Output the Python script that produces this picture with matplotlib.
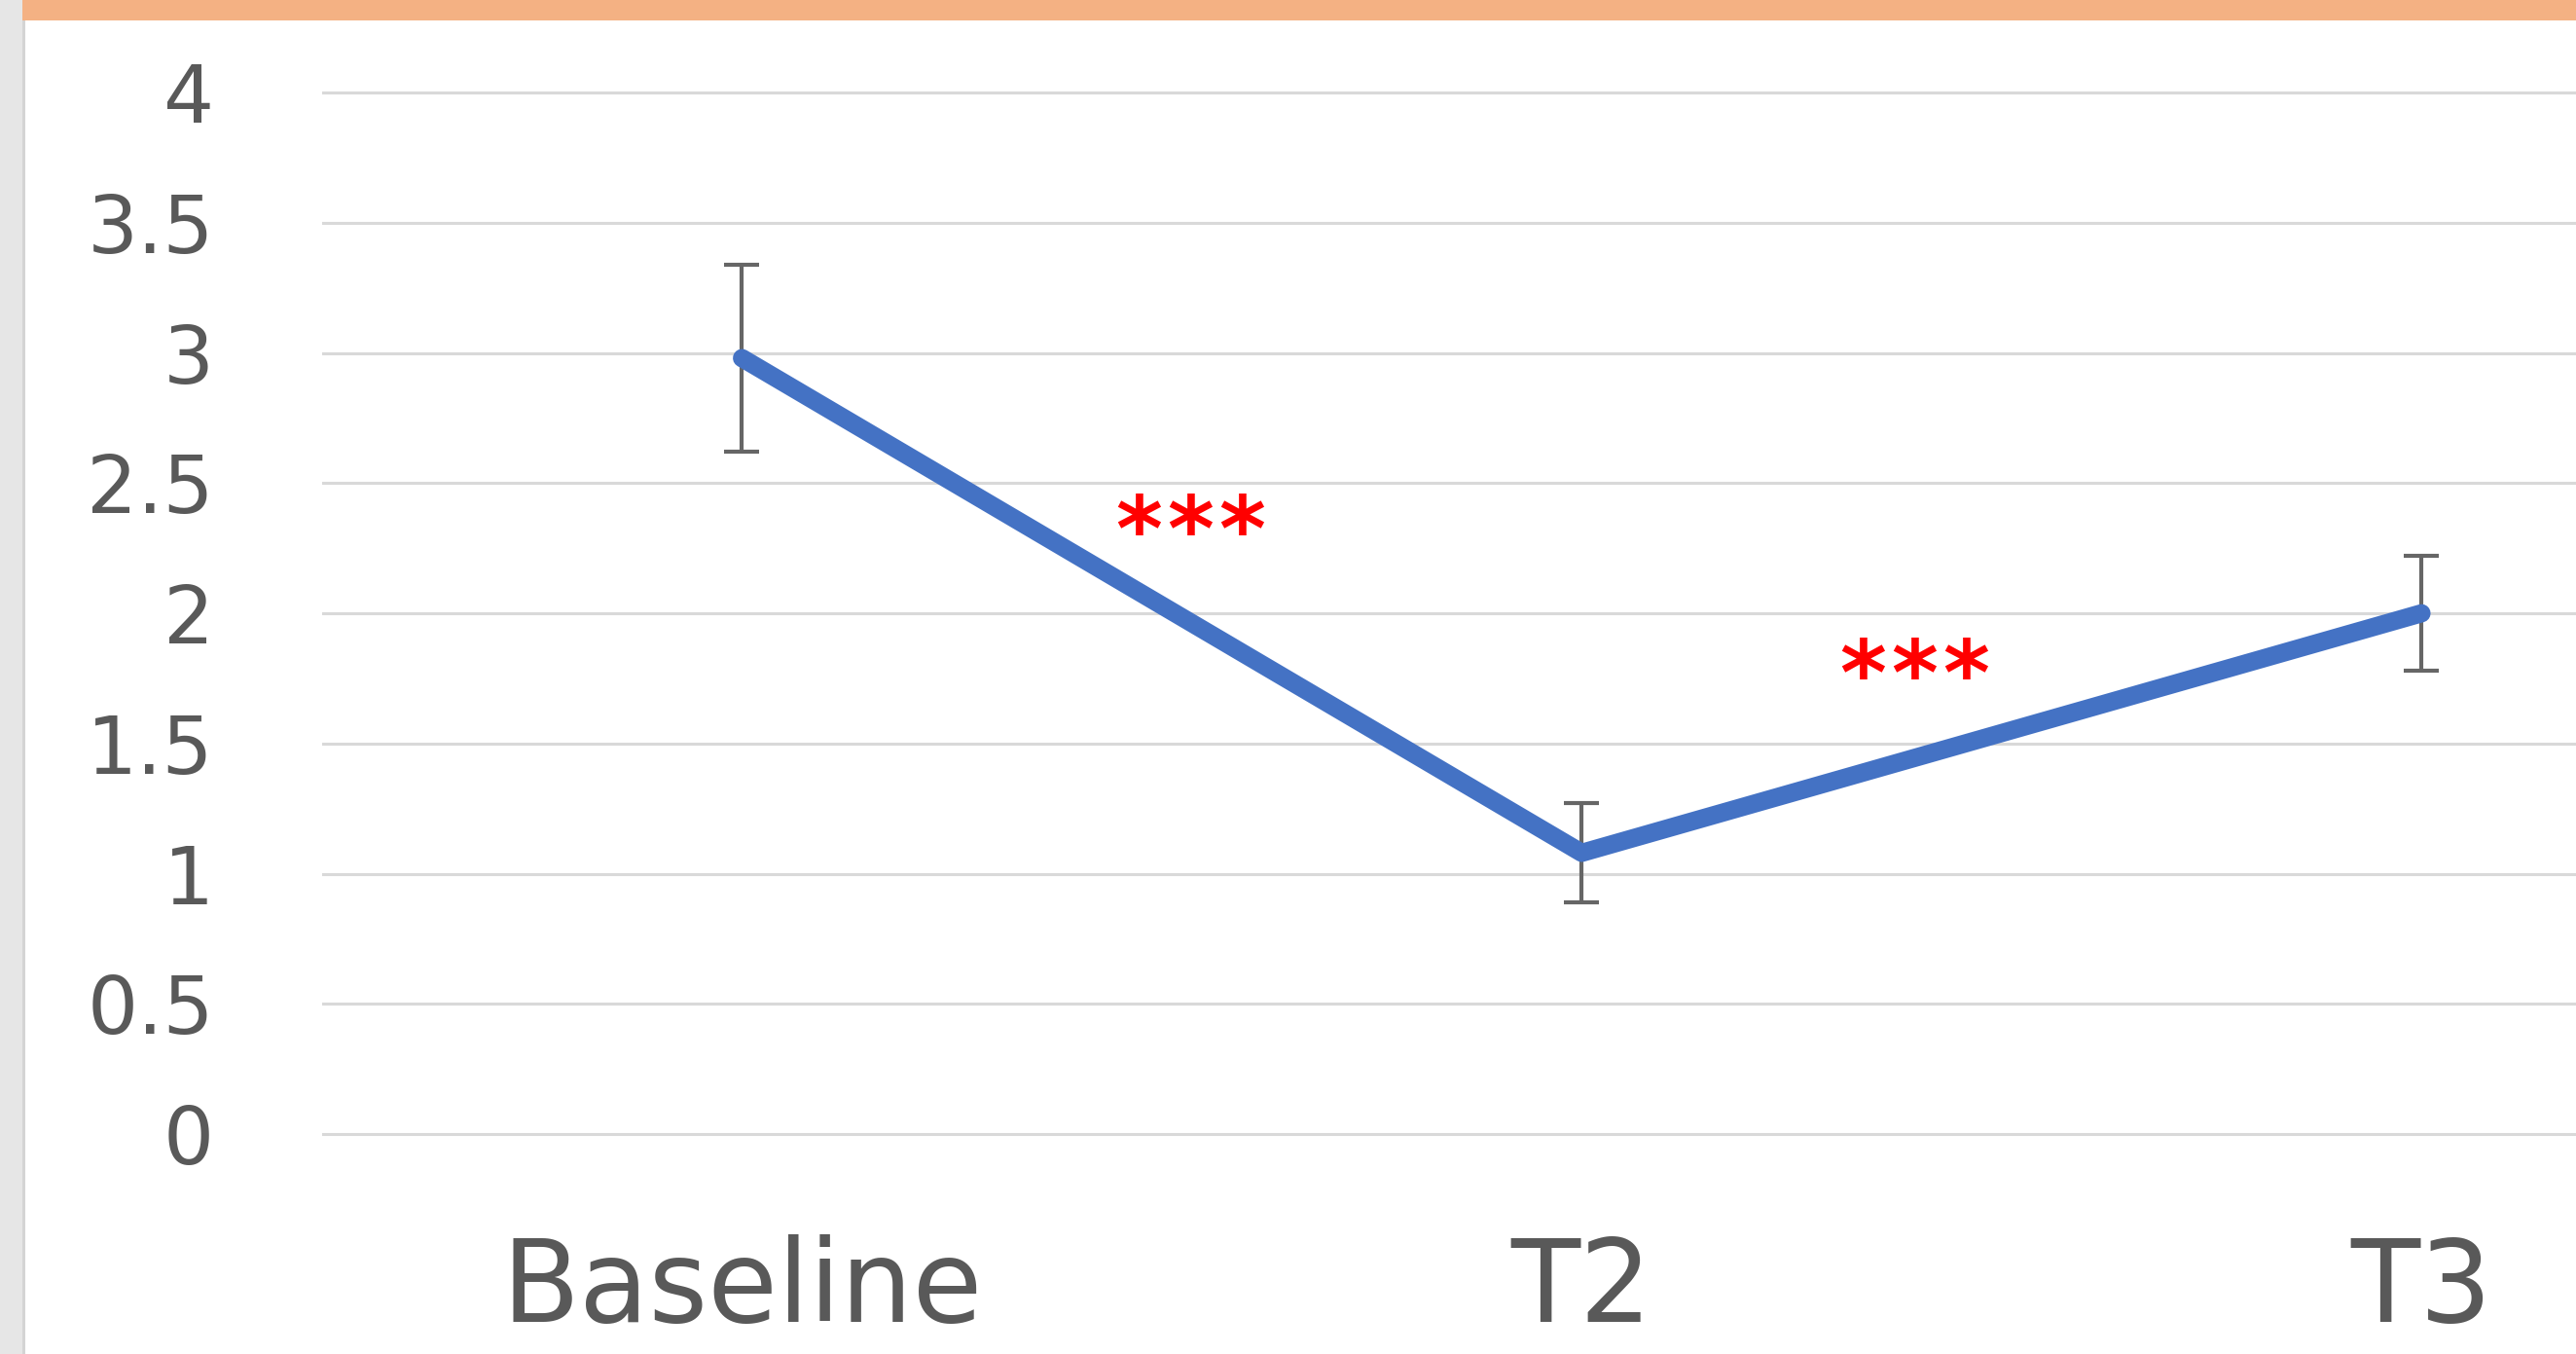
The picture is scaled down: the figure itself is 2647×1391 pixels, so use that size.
import matplotlib.pyplot as plt
from matplotlib.patches import Rectangle

# mean score at each time point, with error bar half-widths
timepoints = ["Baseline", "T2", "T3"]
means = [2.98, 1.08, 2.00]
errors = [0.36, 0.19, 0.22]

# significance marks between consecutive time points
sig_labels = ["***", "***"]
sig_x = [0.534, 1.396]
sig_y = [2.30, 1.745]

yticks = [0, 0.5, 1, 1.5, 2, 2.5, 3, 3.5, 4]
ytick_labels = ["0", "0.5", "1", "1.5", "2", "2.5", "3", "3.5", "4"]

W, H, DPI = 2647, 1391, 100
fig = plt.figure(figsize=(W / DPI, H / DPI), dpi=DPI)
fig.patch.set_facecolor("white")

# grey strip on the left and orange banner along the top
fig.add_artist(Rectangle((0, 0), 23 / W, 1, transform=fig.transFigure,
                         facecolor="#e6e6e6", edgecolor="none", zorder=0))
fig.add_artist(Rectangle((23 / W, 0), 3 / W, 1, transform=fig.transFigure,
                         facecolor="#d4d4d4", edgecolor="none", zorder=0))
fig.add_artist(Rectangle((23 / W, 1 - 21 / H), 1, 21 / H, transform=fig.transFigure,
                         facecolor="#f4b183", edgecolor="none", zorder=0))

ax = fig.add_axes([331 / W, 0.1432, (W - 331) / W, 0.8077])
ax.set_xlim(-0.5, 2.184)
ax.set_ylim(-0.1, 4.1)
ax.set_facecolor("none")

for s in ax.spines.values():
    s.set_visible(False)

ax.set_yticks(yticks)
ax.set_yticklabels(ytick_labels)
ax.yaxis.grid(True, color="#d9d9d9", linewidth=2.2)
ax.set_axisbelow(True)

x = list(range(len(timepoints)))
ax.set_xticks(x)
ax.set_xticklabels(timepoints)

ax.tick_params(axis="y", length=0, pad=80, labelsize=59, labelcolor="#595959")
ax.tick_params(axis="x", length=0, pad=55, labelsize=84, labelcolor="#595959")
for lbl in ax.get_xticklabels() + ax.get_yticklabels():
    lbl.set_fontfamily("DejaVu Sans")

ax.errorbar(x, means, yerr=errors, fmt="none", ecolor="#666666",
            elinewidth=3, capsize=13.3, capthick=3, zorder=2)
ax.plot(x, means, color="#4472c4", linewidth=13.5, solid_capstyle="round",
        solid_joinstyle="round", zorder=3)

# each star placed separately so they sit spread apart
for lab, sx, sy in zip(sig_labels, sig_x, sig_y):
    n = len(lab)
    for k, ch in enumerate(lab):
        ax.annotate(ch, (sx, sy), xytext=((k - (n - 1) / 2) * 38, 0),
                    textcoords="offset points", color="#ff0000", fontsize=66,
                    fontweight="bold", ha="center", va="center",
                    family="DejaVu Sans")

fig.savefig("out.png", dpi=DPI)
